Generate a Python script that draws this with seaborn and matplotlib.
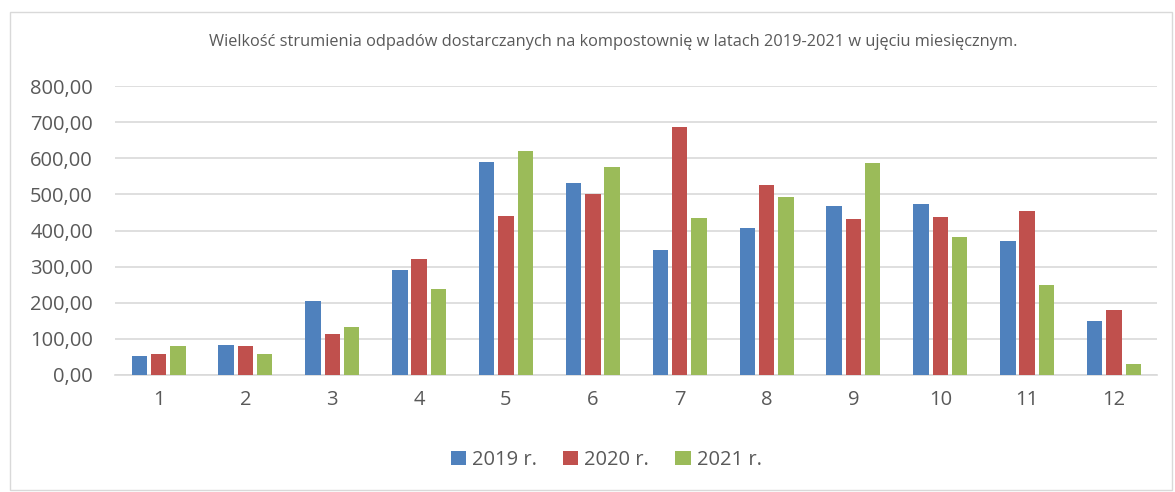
import pandas as pd
import matplotlib
matplotlib.use("Agg")
import matplotlib.pyplot as plt
import seaborn as sns
from matplotlib.ticker import FuncFormatter, MultipleLocator
from matplotlib.patches import Rectangle

months = [str(m) for m in range(1, 13)]
years = ["2019 r.", "2020 r.", "2021 r."]
v2019 = [52, 84, 204, 291, 589, 531, 347, 406, 469, 473, 371, 150]
v2020 = [57, 81, 112, 322, 440, 500, 688, 526, 432, 438, 455, 181]
v2021 = [79, 57, 134, 239, 620, 575, 435, 494, 588, 382, 249, 31]
colors = ["#4F81BD", "#C0504D", "#9BBB59"]
title = "Wielkość strumienia odpadów dostarczanych na kompostownię w latach 2019-2021 w ujęciu miesięcznym."

df = pd.DataFrame({
    "month": months * 3,
    "year": [years[0]] * 12 + [years[1]] * 12 + [years[2]] * 12,
    "value": v2019 + v2020 + v2021,
})

sns.set_theme(style="white")
plt.rcParams["font.family"] = ["Open Sans", "DejaVu Sans"]
text_color = "#595959"

fig = plt.figure(figsize=(11.75, 4.92), dpi=100)
ax = fig.add_axes([0.098, 0.238, 0.887, 0.587])

sns.barplot(data=df, x="month", y="value", hue="year", palette=colors,
            width=0.667, gap=0.2, ax=ax, saturation=1, edgecolor="none",
            zorder=3)

ax.set_ylim(0, 800)
ax.yaxis.set_major_locator(MultipleLocator(100))
ax.yaxis.set_major_formatter(FuncFormatter(lambda v, p: f"{v:.2f}".replace(".", ",")))
ax.grid(axis="y", color="#D9D9D9", linewidth=1.2, zorder=0)
for s in ["top", "right", "left"]:
    ax.spines[s].set_visible(False)
ax.spines["bottom"].set_color("#D9D9D9")
ax.spines["bottom"].set_linewidth(1.2)
ax.tick_params(axis="both", length=0, labelsize=14.5, colors=text_color)
ax.tick_params(axis="x", pad=11)
ax.tick_params(axis="y", pad=16)
ax.set_xlabel("")
ax.set_ylabel("")
ax.set_xlim(-0.5, 11.5)

fig.text(0.522, 0.915, title, ha="center", va="center", fontsize=11.8, color=text_color)

handles, labels = ax.get_legend_handles_labels()
ax.legend_.remove()
fig.legend(handles, labels, loc="center", bbox_to_anchor=(0.516, 0.065), ncol=3,
           frameon=False, fontsize=14.5, labelcolor=text_color,
           handlelength=0.75, handleheight=0.75, handletextpad=0.3, columnspacing=1.3)

fig.patches.append(Rectangle((10 / 1175, 2 / 492), 1162 / 1175, 478 / 492,
                             transform=fig.transFigure, fill=False,
                             edgecolor="#D9D9D9", linewidth=1))

fig.savefig("out.png", dpi=100)
